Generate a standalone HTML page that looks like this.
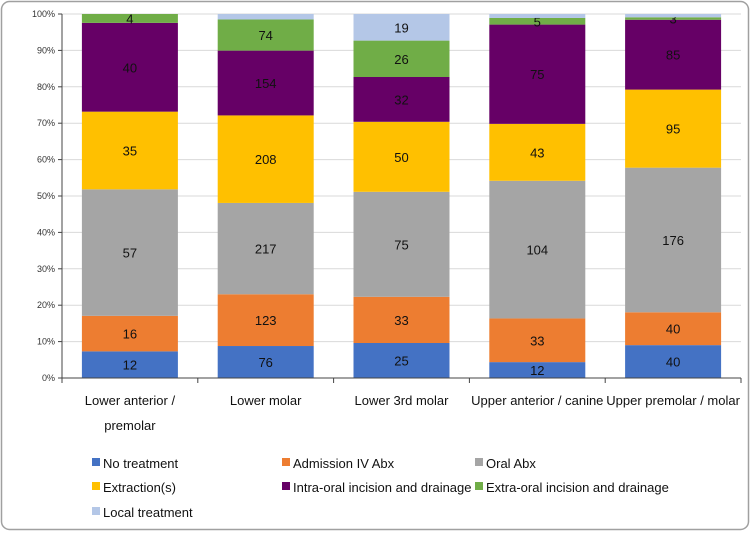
<!DOCTYPE html>
<html><head><meta charset="utf-8"><style>
body{margin:0;background:#fff;}
svg text{font-family:"Liberation Sans",sans-serif;}
</style></head><body>
<svg id="chart" width="750" height="531" xmlns="http://www.w3.org/2000/svg">
<rect x="1.5" y="1.5" width="747" height="528" rx="8" fill="#fff" stroke="#a0a0a0" stroke-width="1.5"/>
<g id="grid"></g><g id="bars"></g><g id="axes"></g><g id="legend"></g>
</svg>
<script>
const categories=[["Lower anterior /","premolar"],["Lower molar"],["Lower 3rd molar"],["Upper anterior / canine"],["Upper premolar / molar"]];
const seriesNames=["No treatment","Admission IV Abx","Oral Abx","Extraction(s)","Intra-oral incision and drainage","Extra-oral incision and drainage","Local treatment"];
const colors=["#4472C4","#ED7D31","#A5A5A5","#FFC000","#660066","#70AD47","#B4C7E7"];
const noTreatment=[12,76,25,12,40];
const admissionIV=[16,123,33,33,40];
const oralAbx=[57,217,75,104,176];
const extraction=[35,208,50,43,95];
const intraOral=[40,154,32,75,85];
const extraOral=[4,74,26,5,3];
const localTreatment=[0,13,19,3,4];
const showLocalLabel=[false,false,true,false,false];
const yTicks=[0,10,20,30,40,50,60,70,80,90,100];
const series=[noTreatment,admissionIV,oralAbx,extraction,intraOral,extraOral,localTreatment];
const NS="http://www.w3.org/2000/svg";
const X0=62,X1=741,Y0=378,Y1=14;
const bw=(X1-X0)/categories.length, barW=96;
const y=p=>Y0-(Y0-Y1)*p/100;
const xc=i=>X0+bw*(i+0.5);
function el(t,a,p){const e=document.createElementNS(NS,t);for(const k in a)e.setAttribute(k,a[k]);p.appendChild(e);return e;}
const grid=document.getElementById('grid'),bars=document.getElementById('bars'),axes=document.getElementById('axes'),legend=document.getElementById('legend');
yTicks.forEach(t=>{
  const l=el('line',{x1:X0,x2:X1,y1:y(t),y2:y(t),stroke:'#d9d9d9','stroke-width':1},grid);
  
  
  const tx=el('text',{x:X0-7,y:y(t)+3,'text-anchor':'end','font-size':9,fill:'#333'},axes);
  tx.textContent=t+'%';
  
  
  el('line',{x1:X0-4,x2:X0,y1:y(t),y2:y(t),stroke:'#444'},axes);
});
categories.forEach((c,i)=>{
  const total=series.reduce((s,a)=>s+a[i],0);
  let cum=0;
  series.forEach((a,s)=>{
    const v=a[i]; if(v<=0)return;
    const p0=cum/total*100,p1=(cum+v)/total*100; cum+=v;
    const r=el('rect',{x:xc(i)-barW/2,y:y(p1),width:barW,height:y(p0)-y(p1),fill:colors[s]},bars);
    
    
    if(s===6&&!showLocalLabel[i])return;
    const t=el('text',{x:xc(i),y:(y(p0)+y(p1))/2+5,'text-anchor':'middle','font-size':13,fill:'#111'},bars);
    t.textContent=v;
    
    
  });
  c.forEach((line,k)=>{
    const t=el('text',{x:xc(i),y:405+k*25,'text-anchor':'middle','font-size':13,fill:'#111'},axes);
    t.textContent=line;
    
    
  });
});
el('line',{x1:X0,x2:X0,y1:Y1,y2:Y0,stroke:'#444'},axes);
el('line',{x1:X0,x2:X1,y1:Y0,y2:Y0,stroke:'#444'},axes);
for(let i=0;i<=categories.length;i++)el('line',{x1:X0+bw*i,x2:X0+bw*i,y1:Y0,y2:Y0+5,stroke:'#444'},axes);
const lx=[92,282,475],ly=[468,492,517];
seriesNames.forEach((n,s)=>{
  const g=el('g',{},legend);
  
  
  const x=lx[s%3],yy=ly[Math.floor(s/3)];
  el('rect',{x:x,y:yy-10,width:8,height:8,fill:colors[s]},g);
  const t=el('text',{x:x+11,y:yy,'font-size':13,fill:'#111'},g);
  t.textContent=n;
});
</script>
</body></html>
